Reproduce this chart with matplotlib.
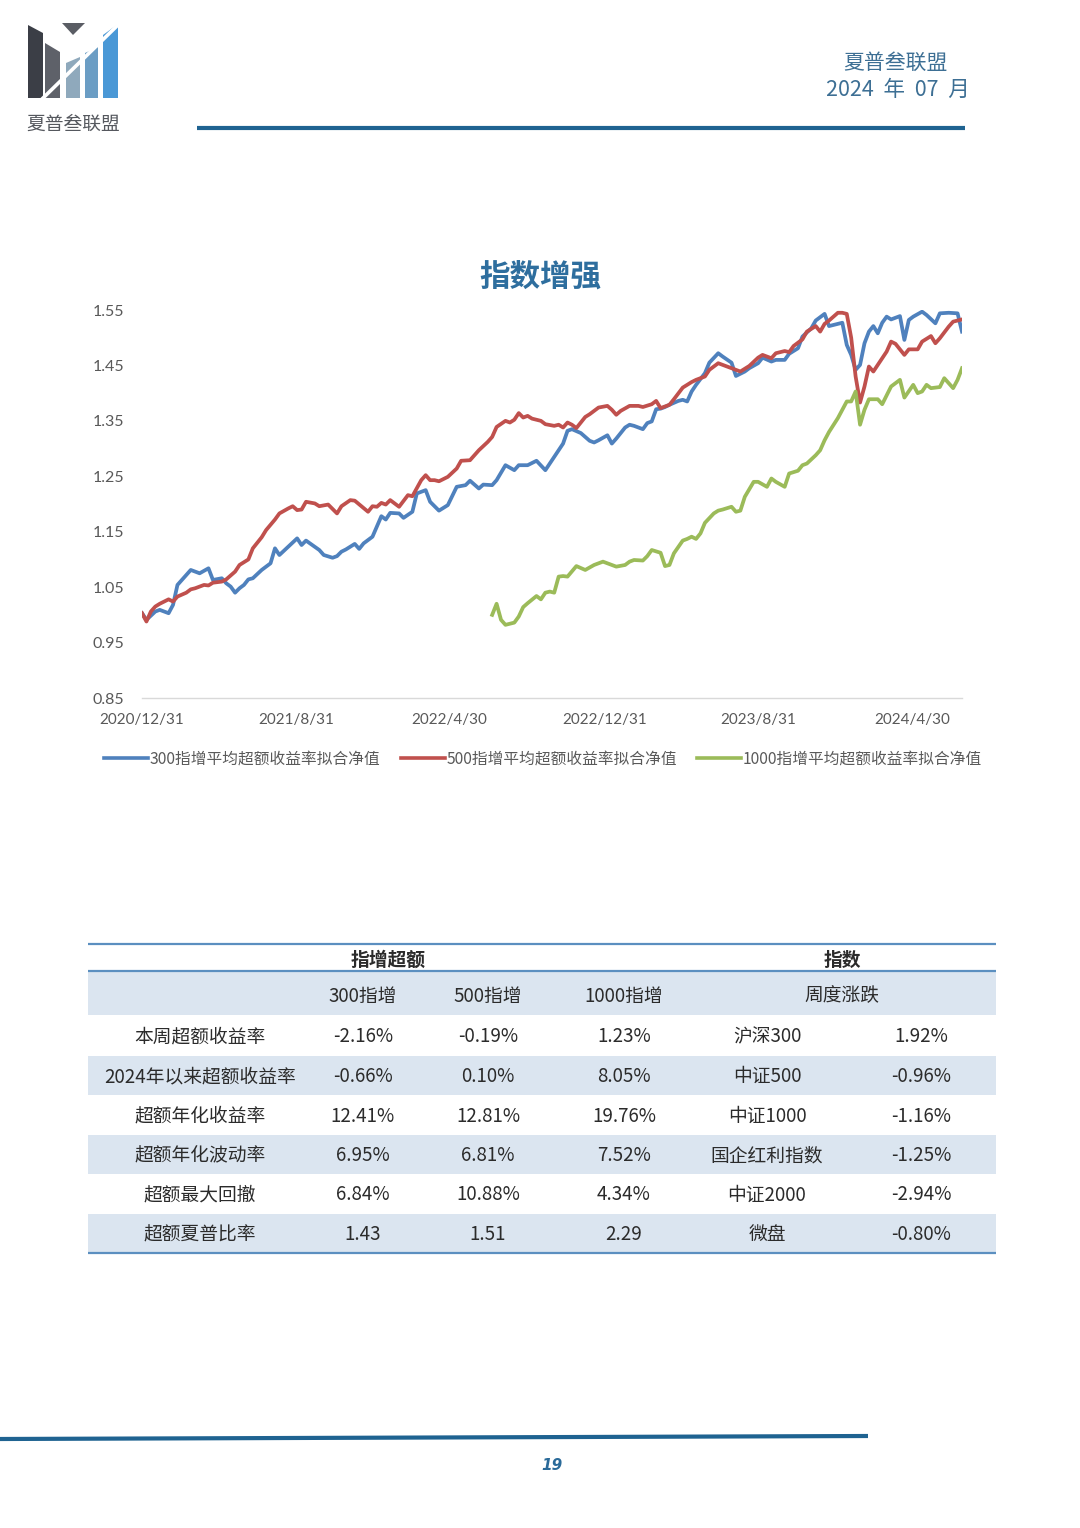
import numpy as np
import pandas as pd
import matplotlib
matplotlib.use('Agg')
import matplotlib.pyplot as plt
from matplotlib.patches import Polygon, Rectangle
from matplotlib.lines import Line2D

plt.rcParams['font.family'] = ['Noto Sans CJK SC', 'DejaVu Sans']

# ---------------- data ----------------
start_date = '2020-12-31'
weeks_300 = [0,1,3,4,6,7,8,9,11,13,15,16,18,19,20,21,22,23,24,25,27,28,29,30,31,33,35,36,37,40,
             41,43,44,45,46,48,49,50,52,54,55,56,58,59,61,62,64,65,67,69,71,73,74,76,77,79,80,82,84,85,
             87,89,91,93,95,96,97,99,101,102,103,105,106,107,109,110,111,113,114,115,116,117,118,119,121,122,123,124,125,127,
             128,130,131,133,134,136,137,139,140,142,143,145,146,148,149,151,152,154,155,157,158,159,160,161,162,163,164,165,166,167,
             168,169,171,172,173,174,176,177,179,180,182,184,185]
nav_300 = [1.003,0.991,1.006,1.009,1.003,1.018,1.054,1.063,1.081,1.075,1.084,1.063,1.066,1.057,1.051,1.040,1.048,1.054,1.064,1.066,
           1.081,1.087,1.093,1.120,1.108,1.123,1.138,1.126,1.134,1.117,1.108,1.103,1.106,1.114,1.118,1.128,1.119,1.129,1.141,1.178,
           1.172,1.184,1.183,1.175,1.186,1.219,1.225,1.204,1.188,1.198,1.231,1.234,1.242,1.228,1.235,1.234,1.243,1.270,1.261,1.270,
           1.270,1.278,1.261,1.285,1.309,1.332,1.335,1.328,1.314,1.311,1.315,1.324,1.309,1.318,1.338,1.343,1.341,1.335,1.346,1.349,
           1.371,1.372,1.375,1.379,1.386,1.388,1.385,1.403,1.415,1.436,1.455,1.472,1.466,1.455,1.431,1.439,1.445,1.454,1.464,1.457,
           1.460,1.460,1.471,1.481,1.502,1.517,1.531,1.543,1.521,1.525,1.527,1.487,1.469,1.442,1.451,1.490,1.511,1.521,1.508,1.527,
           1.538,1.533,1.539,1.496,1.532,1.538,1.547,1.541,1.526,1.544,1.545,1.544,1.511]

weeks_500 = [0,1,2,3,4,6,7,8,10,11,12,14,15,16,18,19,21,22,24,25,27,28,30,31,33,34,35,36,37,39,
             40,42,44,45,47,48,51,52,53,54,55,56,58,60,61,63,64,65,66,67,69,71,72,74,75,76,78,79,80,82,
             83,84,85,86,87,88,90,91,93,94,95,96,97,98,100,101,103,105,106,107,108,110,112,113,115,116,117,119,120,122,
             123,124,125,127,128,130,131,133,135,137,139,140,142,143,145,146,147,149,150,152,153,154,155,157,158,159,160,161,162,163,
             164,165,166,168,169,170,172,173,175,176,178,179,180,182,183,185]
nav_500 = [1.003,0.988,1.006,1.015,1.020,1.028,1.024,1.033,1.040,1.046,1.048,1.054,1.053,1.058,1.060,1.064,1.078,1.090,1.100,1.120,
           1.140,1.153,1.172,1.183,1.192,1.196,1.189,1.190,1.204,1.201,1.196,1.199,1.183,1.196,1.207,1.206,1.186,1.196,1.195,1.202,
           1.199,1.207,1.195,1.216,1.214,1.243,1.252,1.243,1.243,1.241,1.249,1.264,1.278,1.279,1.288,1.297,1.312,1.321,1.339,1.350,
           1.347,1.352,1.364,1.356,1.359,1.354,1.350,1.344,1.341,1.343,1.338,1.347,1.343,1.337,1.357,1.362,1.374,1.377,1.370,1.361,
           1.368,1.377,1.377,1.375,1.380,1.386,1.373,1.379,1.389,1.410,1.415,1.420,1.424,1.430,1.442,1.454,1.451,1.445,1.439,1.449,
           1.464,1.469,1.463,1.472,1.476,1.474,1.485,1.497,1.511,1.521,1.511,1.525,1.531,1.545,1.545,1.543,1.500,1.430,1.383,1.412,
           1.448,1.439,1.451,1.475,1.493,1.489,1.469,1.479,1.479,1.493,1.503,1.490,1.499,1.520,1.529,1.533]

weeks_1000 = [79,80,81,82,84,85,86,87,89,90,91,92,93,94,95,96,98,100,102,104,105,107,109,110,111,113,114,115,117,118,
              119,120,122,123,124,125,126,127,129,130,131,133,134,135,136,138,139,141,142,143,145,146,148,149,150,152,153,154,155,157,
              158,159,160,161,162,163,164,166,167,169,171,172,174,175,176,177,178,180,181,183,184,185]
nav_1000 = [1.000,1.020,0.991,0.982,0.986,0.997,1.014,1.021,1.034,1.028,1.040,1.042,1.040,1.069,1.070,1.069,1.088,1.081,1.090,1.096,
            1.093,1.087,1.090,1.096,1.099,1.098,1.106,1.117,1.112,1.088,1.090,1.111,1.134,1.137,1.141,1.137,1.147,1.166,1.183,1.188,
            1.190,1.195,1.186,1.188,1.213,1.240,1.240,1.231,1.246,1.240,1.231,1.255,1.260,1.270,1.273,1.288,1.297,1.315,1.330,1.355,
            1.370,1.385,1.385,1.403,1.343,1.370,1.389,1.389,1.380,1.412,1.424,1.392,1.415,1.400,1.403,1.415,1.409,1.411,1.427,1.409,
            1.424,1.445]

series_names = ['300指增平均超额收益率拟合净值', '500指增平均超额收益率拟合净值', '1000指增平均超额收益率拟合净值']
x_tick_labels = ['2020/12/31', '2021/8/31', '2022/4/30', '2022/12/31', '2023/8/31', '2024/4/30']
y_ticks = [0.85, 0.95, 1.05, 1.15, 1.25, 1.35, 1.45, 1.55]

table_group_labels = ['指增超额', '指数']
table_col_labels = ['300指增', '500指增', '1000指增', '周度涨跌']
row_labels = ['本周超额收益率', '2024年以来超额收益率', '超额年化收益率', '超额年化波动率', '超额最大回撤', '超额夏普比率']
col_300 = ['-2.16%', '-0.66%', '12.41%', '6.95%', '6.84%', '1.43']
col_500 = ['-0.19%', '0.10%', '12.81%', '6.81%', '10.88%', '1.51']
col_1000 = ['1.23%', '8.05%', '19.76%', '7.52%', '4.34%', '2.29']
index_names = ['沪深300', '中证500', '中证1000', '国企红利指数', '中证2000', '微盘']
index_weekly = ['1.92%', '-0.96%', '-1.16%', '-1.25%', '-2.94%', '-0.80%']

# ---------------- figure ----------------
W, H = 1080, 1528
fig = plt.figure(figsize=(W / 100, H / 100), dpi=100)
fig.patch.set_facecolor('white')

deco = fig.add_axes([0, 0, 1, 1], zorder=0)
deco.set_xlim(0, W)
deco.set_ylim(H, 0)
deco.axis('off')

# logo
logo_parts = [
    ([(28, 25), (43, 33), (43, 98), (28, 98)], '#3b3e46'),
    ([(62, 23), (85, 23), (73, 35)], '#5a5d64'),
    ([(45, 43), (60, 52), (60, 98), (45, 98)], '#5e6169'),
    ([(66, 63), (80, 57), (80, 98), (66, 98)], '#8fa9bc'),
    ([(85, 53), (98, 47), (98, 98), (85, 98)], '#6b9dc4'),
    ([(103, 35), (118, 24), (118, 98), (103, 98)], '#4a98d6'),
]
for pts, c in logo_parts:
    deco.add_patch(Polygon(pts, closed=True, facecolor=c, edgecolor='none'))
deco.plot([40, 121], [101, 22], color='white', lw=2.6, solid_capstyle='butt')
deco.text(73, 124, '夏普叁联盟', fontsize=13.5, color='#55585e', ha='center', va='center')

# header
deco.text(895, 63, '夏普叁联盟', fontsize=15, color='#3d6f94', ha='center', va='center')
deco.text(898, 90, '2024  年  07  月', fontsize=15.5, color='#3d6f94', ha='center', va='center')
deco.plot([197, 965], [128, 128], color='#1f6391', lw=3.0, solid_capstyle='butt')

# title
deco.text(540, 277, '指数增强', fontsize=22, fontweight='bold', color='#2e6e9e', ha='center', va='center')

# footer
deco.plot([0, 868], [1439, 1436], color='#1f6391', lw=3.0, solid_capstyle='butt')
deco.text(552, 1466, '19', fontsize=11, fontweight='bold', fontstyle='italic', color='#2a6a99',
          ha='center', va='center', family=['DejaVu Sans'])

# ---------------- chart ----------------
left, right, top, bottom = 142, 962, 310, 698
ax = fig.add_axes([left / W, 1 - bottom / H, (right - left) / W, (bottom - top) / H], zorder=2)
ax.patch.set_alpha(0)

t0 = np.datetime64(start_date)
def to_dates(weeks):
    return t0 + np.array(weeks, dtype='int64') * np.timedelta64(7, 'D')

colors = ['#4f81bd', '#c0504d', '#9bbb59']
for wk, vals, c, name in [(weeks_300, nav_300, colors[0], series_names[0]),
                          (weeks_500, nav_500, colors[1], series_names[1]),
                          (weeks_1000, nav_1000, colors[2], series_names[2])]:
    ax.plot(to_dates(wk), vals, color=c, lw=2.7, solid_joinstyle='round', label=name)

ax.set_xlim(to_dates([0])[0], to_dates([185])[0])
ax.set_ylim(0.85, 1.55)
ax.set_yticks(y_ticks)
ax.set_yticklabels([f'{v:.2f}' for v in y_ticks])
tick_pos = [np.datetime64(pd.Timestamp(s.replace('/', '-')).date()) for s in x_tick_labels]
ax.set_xticks(tick_pos)
ax.set_xticklabels(x_tick_labels)
for s in ['top', 'right', 'left']:
    ax.spines[s].set_visible(False)
ax.spines['bottom'].set_color('#d9d9d9')
ax.spines['bottom'].set_linewidth(1.0)
ax.tick_params(axis='both', length=0, colors='#595959')
ax.tick_params(axis='y', pad=13, labelsize=11.5)
ax.tick_params(axis='x', pad=11, labelsize=11)
for lab in ax.get_xticklabels() + ax.get_yticklabels():
    lab.set_family(['Lato', 'DejaVu Sans'])
    lab.set_color('#595959')

leg_handles = [Line2D([0], [0], color=c, lw=2.6) for c in colors]
fig.legend(leg_handles, series_names, loc='center', bbox_to_anchor=(543 / W, 1 - 759 / H), ncol=3,
           frameon=False, fontsize=11.3, handlelength=2.8, handletextpad=0.1, columnspacing=1.3,
           labelcolor='#595959')

# ---------------- table ----------------
tx0, tx1 = 88, 996
band = '#dbe5f0'
line_c = '#5b8fc0'
row_tops = [1016, 1056, 1095, 1135, 1174, 1214]
row_h = [40, 39, 40, 39, 40, 39]
deco.add_patch(Rectangle((tx0, 972), tx1 - tx0, 43, facecolor=band, edgecolor='none'))
for i, (yt, hh) in enumerate(zip(row_tops, row_h)):
    if i % 2 == 1:
        deco.add_patch(Rectangle((tx0, yt), tx1 - tx0, hh, facecolor=band, edgecolor='none'))
for yy in [944, 971, 1253]:
    deco.plot([tx0, tx1], [yy, yy], color=line_c, lw=1.6, solid_capstyle='butt')

txt_c = '#2b2b2b'
fs = 13.5
deco.text(388, 960, table_group_labels[0], fontsize=fs, fontweight='bold', color=txt_c, ha='center', va='center')
deco.text(842, 960, table_group_labels[1], fontsize=fs, fontweight='bold', color=txt_c, ha='center', va='center')
col_x = [363, 488, 624, 842]
for x, lab in zip(col_x, table_col_labels):
    deco.text(x, 996, lab, fontsize=fs, color=txt_c, ha='center', va='center')

data_x = [200, 363, 488, 624, 767, 921]
for i in range(len(row_labels)):
    yc = row_tops[i] + row_h[i] / 2 + 1
    vals = [row_labels[i], col_300[i], col_500[i], col_1000[i], index_names[i], index_weekly[i]]
    for x, v in zip(data_x, vals):
        deco.text(x, yc, v, fontsize=fs, color=txt_c, ha='center', va='center')

fig.savefig('out.png', dpi=100, facecolor='white')
